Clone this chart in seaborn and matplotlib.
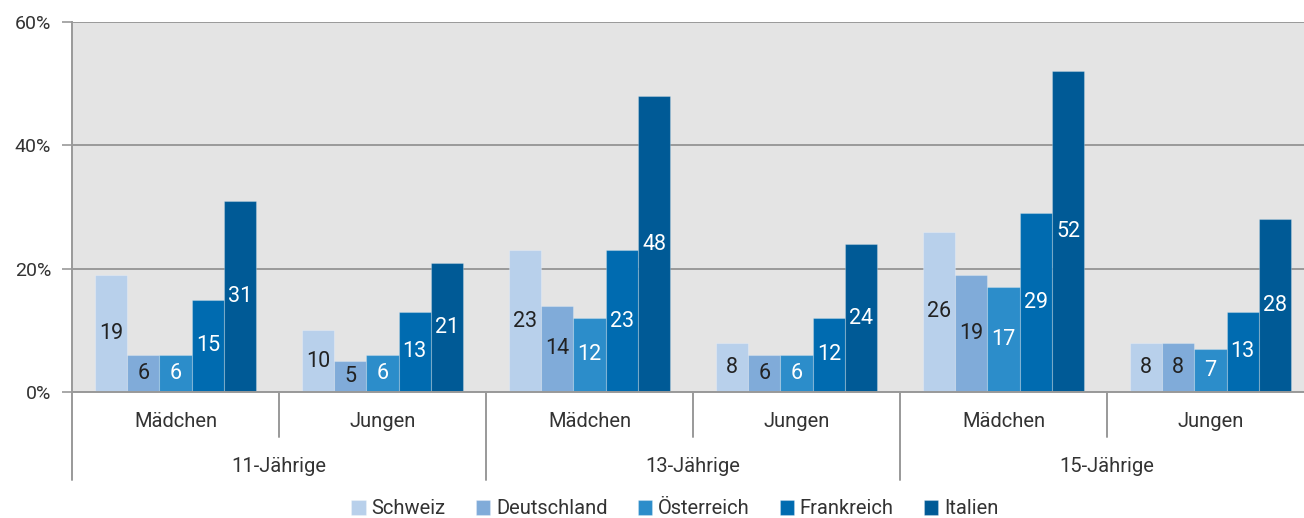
import pandas as pd
import seaborn as sns
import matplotlib.pyplot as plt
import matplotlib.transforms as mtransforms

# Data (percent)
countries = ["Schweiz", "Deutschland", "Österreich", "Frankreich", "Italien"]
ages = ["11-Jährige", "13-Jährige", "15-Jährige"]
sexes = ["Mädchen", "Jungen"]
schweiz = [19, 10, 23, 8, 26, 8]
deutschland = [6, 5, 14, 6, 19, 8]
oesterreich = [6, 6, 12, 6, 17, 7]
frankreich = [15, 13, 23, 12, 29, 13]
italien = [31, 21, 48, 24, 52, 28]

colors = ["#B8D0EB", "#80ABD9", "#2C8DCA", "#006BB0", "#005A96"]
label_colors = ["#222222", "#222222", "white", "white", "white"]

# long table for seaborn
groups = [f"{a}|{s}" for a in ages for s in sexes]
series = [schweiz, deutschland, oesterreich, frankreich, italien]
rows = []
for c, vals in zip(countries, series):
    for g, v in zip(groups, vals):
        rows.append({"gruppe": g, "land": c, "wert": v})
df = pd.DataFrame(rows)

sns.set_style("white")
plt.rcParams["font.family"] = ["Roboto", "DejaVu Sans"]

W, H = 1304, 518
fig = plt.figure(figsize=(W / 100, H / 100), dpi=100)
ax = fig.add_axes([72 / W, (H - 392) / H, (1314 - 72) / W, (392 - 22) / H])

sns.barplot(data=df, x="gruppe", y="wert", hue="land", order=groups,
            hue_order=countries, palette=colors, saturation=1, width=0.78, gap=0,
            edgecolor="#ffffff40", linewidth=0.8, ax=ax, legend=True)

ax.set_facecolor("#E4E4E4")
ax.set_ylim(0, 60)
ax.set_xlim(-0.5, len(groups) - 0.5)
ax.set_yticks([0, 20, 40, 60])
ax.set_yticklabels(["0%", "20%", "40%", "60%"], fontsize=14, color="#333333")
ax.yaxis.grid(True, color="#999999", linewidth=1.4)
ax.set_axisbelow(True)
ax.tick_params(axis="y", length=7, width=1.2, color="#999999", pad=8, left=True)
ax.set_xticks([])
ax.set_xlabel("")
ax.set_ylabel("")
for side in ["top", "right"]:
    ax.spines[side].set_visible(False)
ax.spines["left"].set_color("#999999")
ax.spines["left"].set_linewidth(1.4)
ax.spines["bottom"].set_color("#999999")
ax.spines["bottom"].set_linewidth(1.4)

# value labels inside the bars
for cont, lc in zip(ax.containers, label_colors):
    ax.bar_label(cont, label_type="center", color=lc, fontsize=15.5)

# two-level category axis below the plot
trans = mtransforms.blended_transform_factory(ax.transData, ax.transAxes)
sep_kw = dict(color="#999999", linewidth=1.4, transform=trans, clip_on=False)
for i, g in enumerate(groups):
    ax.text(i, -0.08, g.split("|")[1], ha="center", va="center",
            fontsize=14.5, color="#333333", transform=trans)
for j, a in enumerate(ages):
    ax.text(2 * j + 0.5, -0.202, a, ha="center", va="center",
            fontsize=14.5, color="#333333", transform=trans)
for k in range(len(groups)):
    x = k - 0.5
    low = -0.238 if k % 2 == 0 else -0.122
    ax.plot([x, x], [0, low], **sep_kw)

# legend below
handles, labels = ax.get_legend_handles_labels()
ax.legend_.remove()
fig.legend(handles, labels, loc="center", bbox_to_anchor=(675 / W, (H - 509) / H),
           ncol=5, frameon=False, fontsize=14.5, handlelength=0.7,
           handleheight=0.7, handletextpad=0.3, columnspacing=1.5,
           labelcolor="#333333")

fig.savefig("out.png", dpi=100)
